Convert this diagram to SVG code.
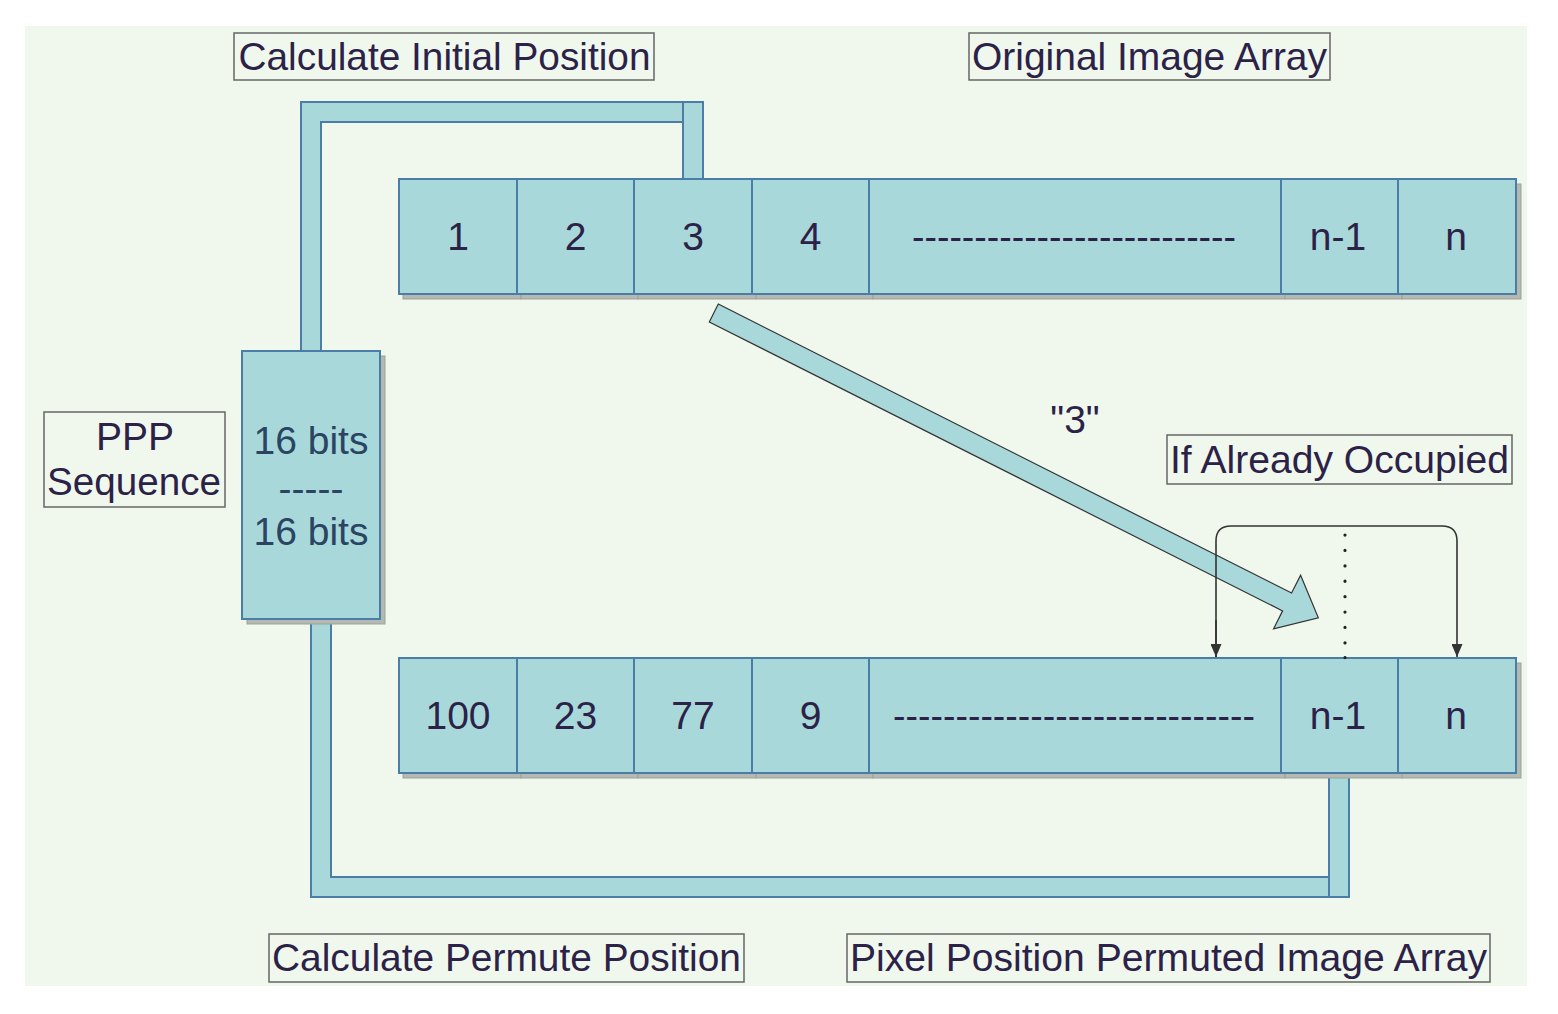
<svg xmlns="http://www.w3.org/2000/svg" width="1558" height="1014" viewBox="0 0 1558 1014">
<style>
.cell{fill:#a8d8da;stroke:#4a7ea8;stroke-width:2}
.shadow{fill:#b4b9b1;stroke:#9da29a;stroke-width:1}
.pipe{fill:#a8d8da;stroke:#4a7ea8;stroke-width:2}
.lbl{fill:none;stroke:#666;stroke-width:1.5}
text{font-family:"Liberation Sans",Arial,sans-serif;font-size:39px;fill:#2c2248;text-anchor:middle}
.bits{fill:#2a4462}
.ln{fill:none;stroke:#333;stroke-width:1.6}
.dots{stroke:#222;stroke-width:3.2;stroke-dasharray:0.1 15.3;stroke-linecap:round}
</style>
<defs>
<marker id="ah" markerWidth="13" markerHeight="11" refX="13" refY="5.5" orient="auto" markerUnits="userSpaceOnUse" viewBox="0 0 13 11">
<path d="M0,0 L13,5.5 L0,11 Z" fill="#333"/>
</marker>
</defs>
<rect x="0" y="0" width="1558" height="1014" fill="#ffffff"/>
<rect x="25" y="26" width="1502" height="960" fill="#f0f8ee"/>

<g id="connectors">
<path class="pipe" d="M301,351 V102 H683 V122 H321 V351 Z"/>
<rect class="pipe" x="683" y="102" width="20" height="77"/>
<path class="pipe" d="M311,619 V897 H1329 V877 H331 V619 Z"/>
<rect class="pipe" x="1329" y="773" width="20" height="124"/>
<g id="bigArrow" transform="translate(713.8,313) rotate(26.75)">
<polygon points="0,-10 642,-10 642,-30 677,0 642,30 642,10 0,10" fill="#a8d8da" stroke="#333" stroke-width="1.2" stroke-linejoin="miter"/>
</g>
<path class="ln" d="M1216,657 V541 Q1216,526 1231,526 H1442 Q1457,526 1457,541 V657" marker-end="url(#ah)"/>
<line x1="1216" y1="620" x2="1216" y2="657" class="ln" marker-end="url(#ah)"/>
<line class="dots" x1="1345" y1="535" x2="1345" y2="660"/>
</g>

<g id="topArray">
<rect class="shadow" x="403" y="184" width="118" height="115"/>
<rect class="shadow" x="521" y="184" width="117" height="115"/>
<rect class="shadow" x="638" y="184" width="118" height="115"/>
<rect class="shadow" x="756" y="184" width="117" height="115"/>
<rect class="shadow" x="873" y="184" width="412" height="115"/>
<rect class="shadow" x="1285" y="184" width="117" height="115"/>
<rect class="shadow" x="1402" y="184" width="119" height="115"/>
<g id="t1"><rect class="cell" x="399" y="179" width="118" height="115"/><text x="458" y="250">1</text></g>
<g id="t2"><rect class="cell" x="517" y="179" width="117" height="115"/><text x="575.5" y="250">2</text></g>
<g id="t3"><rect class="cell" x="634" y="179" width="118" height="115"/><text x="693" y="250">3</text></g>
<g id="t4"><rect class="cell" x="752" y="179" width="117" height="115"/><text x="810.5" y="250">4</text></g>
<g id="t5"><rect class="cell" x="869" y="179" width="412" height="115"/><text x="1074" y="250" textLength="324" lengthAdjust="spacingAndGlyphs">--------------------------</text></g>
<g id="t6"><rect class="cell" x="1281" y="179" width="117" height="115"/><text x="1338" y="250">n-1</text></g>
<g id="t7"><rect class="cell" x="1398" y="179" width="118" height="115"/><text x="1456" y="250">n</text></g>
</g>

<g id="bottomArray">
<rect class="shadow" x="403" y="663" width="118" height="115"/>
<rect class="shadow" x="521" y="663" width="117" height="115"/>
<rect class="shadow" x="638" y="663" width="118" height="115"/>
<rect class="shadow" x="756" y="663" width="117" height="115"/>
<rect class="shadow" x="873" y="663" width="412" height="115"/>
<rect class="shadow" x="1285" y="663" width="117" height="115"/>
<rect class="shadow" x="1402" y="663" width="119" height="115"/>
<g id="b1"><rect class="cell" x="399" y="658" width="118" height="115"/><text x="458" y="729">100</text></g>
<g id="b2"><rect class="cell" x="517" y="658" width="117" height="115"/><text x="575.5" y="729">23</text></g>
<g id="b3"><rect class="cell" x="634" y="658" width="118" height="115"/><text x="693" y="729">77</text></g>
<g id="b4"><rect class="cell" x="752" y="658" width="117" height="115"/><text x="810.5" y="729">9</text></g>
<g id="b5"><rect class="cell" x="869" y="658" width="412" height="115"/><text x="1074" y="729" textLength="362" lengthAdjust="spacingAndGlyphs">-----------------------------</text></g>
<g id="b6"><rect class="cell" x="1281" y="658" width="117" height="115"/><text x="1338" y="729">n-1</text></g>
<g id="b7"><rect class="cell" x="1398" y="658" width="118" height="115"/><text x="1456" y="729">n</text></g>
</g>
<line class="dots" x1="1345" y1="657.5" x2="1345" y2="660"/>

<g id="bitsBox">
<rect class="shadow" x="247" y="356" width="138" height="268" stroke="none"/>
<rect class="cell" x="242" y="351" width="138" height="268"/>
<text class="bits" x="311" y="454">16 bits</text>
<text class="bits" x="311" y="502">-----</text>
<text class="bits" x="311" y="545">16 bits</text>
</g>

<g id="lblInitial"><rect class="lbl" x="234" y="33" width="420" height="47"/><text x="444.5" y="70" textLength="412" lengthAdjust="spacingAndGlyphs">Calculate Initial Position</text></g>
<g id="lblOriginal"><rect class="lbl" x="969" y="33" width="361" height="47"/><text x="1149.5" y="70" textLength="355" lengthAdjust="spacingAndGlyphs">Original Image Array</text></g>
<g id="lblPPP"><rect class="lbl" x="44" y="412" width="181" height="95"/><text x="135" y="450">PPP</text><text x="134" y="495" textLength="174" lengthAdjust="spacingAndGlyphs">Sequence</text></g>
<g id="lbl3"><text x="1075" y="433">"3"</text></g>
<g id="lblOccupied"><rect class="lbl" x="1167" y="435" width="345" height="49"/><text x="1339.5" y="473" textLength="339" lengthAdjust="spacingAndGlyphs">If Already Occupied</text></g>
<g id="lblPermute"><rect class="lbl" x="269" y="934" width="475" height="48"/><text x="506.5" y="971" textLength="469" lengthAdjust="spacingAndGlyphs">Calculate Permute Position</text></g>
<g id="lblPixel"><rect class="lbl" x="847" y="934" width="643" height="48"/><text x="1168.5" y="971" textLength="637" lengthAdjust="spacingAndGlyphs">Pixel Position Permuted Image Array</text></g>
</svg>
